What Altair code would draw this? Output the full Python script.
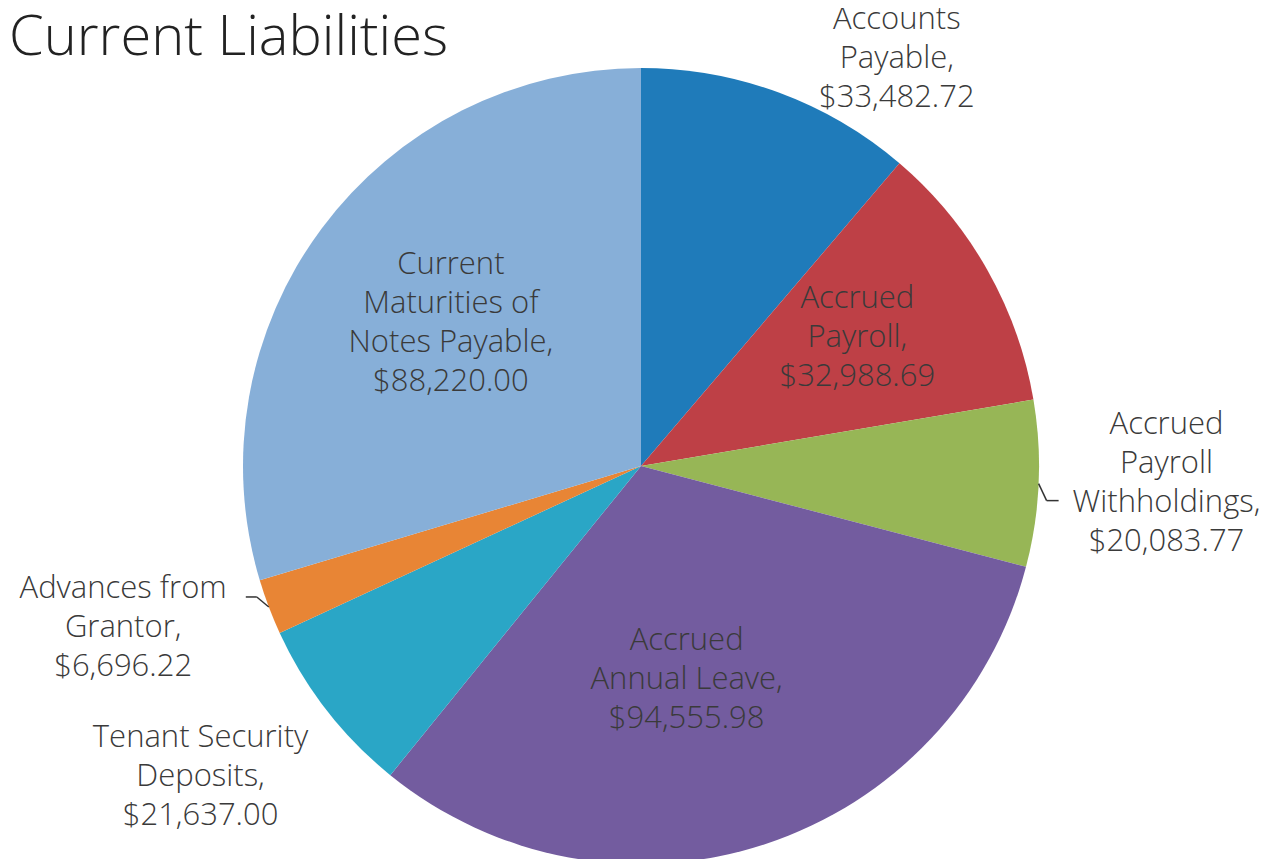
import altair as alt
import pandas as pd

# ---- data ----
names = [
    "Accounts Payable",
    "Accrued Payroll",
    "Accrued Payroll Withholdings",
    "Accrued Annual Leave",
    "Tenant Security Deposits",
    "Advances from Grantor",
    "Current Maturities of Notes Payable",
]
label_lines = [
    "Accounts\nPayable,",
    "Accrued\nPayroll,",
    "Accrued\nPayroll\nWithholdings,",
    "Accrued\nAnnual Leave,",
    "Tenant Security\nDeposits,",
    "Advances from\nGrantor,",
    "Current\nMaturities of\nNotes Payable,",
]
values = [33482.72, 32988.69, 20083.77, 94555.98, 21637.00, 6696.22, 88220.00]
colors = ["#1F7BBA", "#BE4046", "#97B656", "#735C9F", "#2AA6C6", "#E88535", "#87AFD8"]

# ---- layout (label placement around the pie) ----
CX, CY, R = 633, 458, 398
LH = 39
label_radius = [482, 251, 526, 214, 539, 542, 237]
label_nx = [89, -2, 0, -21, -15, -11, 0]
label_ny = [45, -4, -6, 11, -20, -30, -1]
leader = [0, 0, 1, 0, 0, 1, 0]
elbow_dx = [0, 0, 8, 0, 0, -12, 0]
elbow_dy = [0, 0, 17, 0, 0, -10, 0]
tail_dx = [0, 0, 12, 0, 0, -11, 0]

df = pd.DataFrame({
    "idx": list(range(len(names))),
    "name": names,
    "lines": label_lines,
    "value": values,
    "lr": label_radius,
    "nx": label_nx,
    "ny": label_ny,
    "leader": leader,
    "ex": elbow_dx,
    "ey": elbow_dy,
    "tx": tail_dx,
})

base = alt.Chart(df)

pie = base.mark_arc(outerRadius=R).encode(
    theta=alt.Theta("value:Q", stack=True),
    color=alt.Color("name:N", scale=alt.Scale(domain=names, range=colors), legend=None),
    order=alt.Order("idx:Q"),
    x=alt.value(CX),
    y=alt.value(CY),
)

geo = base.transform_window(
    cum="sum(value)", sort=[alt.SortField("idx")], frame=[None, 0]
).transform_joinaggregate(
    total="sum(value)"
).transform_calculate(
    mid="(datum.cum - datum.value/2)/datum.total*2*PI",
    label="datum.lines + '\\n$' + format(datum.value, ',.2f')",
).transform_calculate(
    nl="length(split(datum.label, '\\n'))",
).transform_calculate(
    lx=f"{CX} + datum.lr*sin(datum.mid) + datum.nx",
    ly=f"{CY} - datum.lr*cos(datum.mid) + datum.ny - (datum.nl - 1)/2*{LH}",
    px=f"{CX} + {R}*sin(datum.mid)",
    py=f"{CY} - {R}*cos(datum.mid)",
).transform_calculate(
    ex2="datum.px + datum.ex",
    ey2="datum.py + datum.ey",
).transform_calculate(
    tx2="datum.ex2 + datum.tx",
)

labels = geo.mark_text(
    font="Open Sans", fontSize=31, fontWeight=300, lineBreak="\n", lineHeight=LH,
    align="center", baseline="middle", color="#3a3a3a",
).encode(
    x=alt.X("lx:Q", scale=None),
    y=alt.Y("ly:Q", scale=None),
    text="label:N",
)

lead = geo.transform_filter("datum.leader == 1")
seg1 = lead.mark_rule(color="#333333", strokeWidth=1.5).encode(
    x=alt.X("px:Q", scale=None), y=alt.Y("py:Q", scale=None),
    x2="ex2:Q", y2="ey2:Q",
)
seg2 = lead.mark_rule(color="#333333", strokeWidth=1.5).encode(
    x=alt.X("ex2:Q", scale=None), y=alt.Y("ey2:Q", scale=None),
    x2="tx2:Q", y2="ey2:Q",
)

title = alt.Chart(pd.DataFrame({"t": ["Current Liabilities"]})).mark_text(
    font="Open Sans", fontSize=56, fontWeight=300, align="left", baseline="alphabetic",
    color="#222222",
).encode(x=alt.value(1), y=alt.value(47), text="t:N")

chart = alt.layer(pie, seg1, seg2, labels, title).properties(
    width=1253, height=851, autosize=alt.AutoSizeParams(type="none"), padding=0,
).configure_view(stroke=None)

chart.save("out.html", embed_options={"renderer": "svg", "actions": False})
